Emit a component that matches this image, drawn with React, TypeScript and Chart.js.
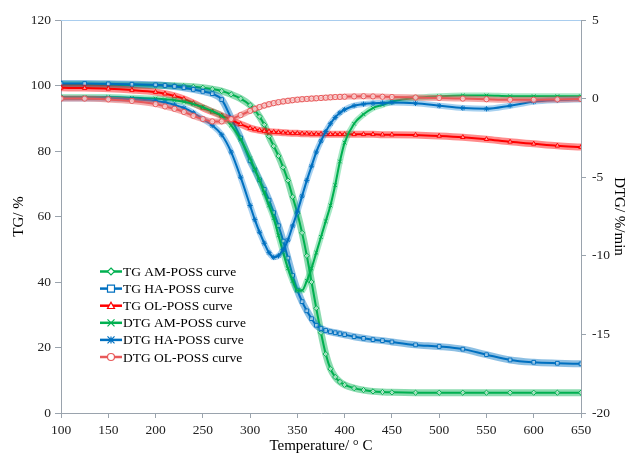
import React, { useEffect, useRef } from 'react';
import { Chart, registerables } from 'chart.js';
Chart.register(...registerables);

const temperatures = [100,125,150,175,200,210,220,230,240,250,260,270,280,290,300,305,310,315,320,325,330,335,340,345,350,355,360,365,370,375,380,385,390,395,400,410,420,430,440,450,475,500,525,550,575,600,625,650];

const tgAmPoss = [100.3,100.3,100.2,100.1,100,100,99.9,99.8,99.6,99.3,98.9,98.3,97.3,96,94,92.5,90.5,88,84.5,81.5,78.5,75,71,66,61,55,48,40,32,24.5,18,13.5,11,9.5,8.6,7.6,7.0,6.6,6.4,6.3,6.2,6.2,6.2,6.2,6.2,6.2,6.2,6.2];
const tgHaPoss = [100.6,100.6,100.5,100.4,100.2,100,99.7,99.3,98.8,98.2,97.5,95.7,90,84,77,74.2,71.2,68.3,65,61.2,57.2,52.5,47.3,42,37.5,34,31.2,28.8,26.8,25.8,25.2,24.8,24.5,24.2,23.9,23.3,22.8,22.4,22.1,21.7,20.8,20.3,19.5,17.8,16.2,15.5,15.2,15.0];
const tgOlPoss = [99.3,99.2,99,98.6,98,97.5,96.8,95.9,94.6,93.2,92,90.8,89.5,88.2,87,86.6,86.3,86.1,85.9,85.8,85.7,85.6,85.5,85.4,85.4,85.3,85.3,85.2,85.2,85.2,85.1,85.1,85.1,85.1,85.1,85.1,85.1,85.1,85.0,85.0,84.9,84.6,84.2,83.6,82.8,82.2,81.6,81.2];
const dtgAmPoss = [0.1,0.1,0.1,0.05,0,-0.05,-0.1,-0.2,-0.35,-0.55,-0.8,-1.1,-1.7,-2.6,-3.8,-4.5,-5.2,-6.0,-6.8,-7.6,-8.7,-9.8,-10.8,-11.6,-12.2,-12.2,-11.6,-10.8,-9.8,-8.8,-7.8,-6.8,-5.5,-4.0,-2.8,-1.6,-1.0,-0.6,-0.4,-0.2,0.05,0.15,0.2,0.2,0.15,0.15,0.15,0.15];
const dtgHaPoss = [0,0,0,-0.05,-0.15,-0.25,-0.4,-0.6,-0.9,-1.3,-1.7,-2.3,-3.4,-5.0,-6.8,-7.7,-8.5,-9.2,-9.8,-10.1,-10.0,-9.6,-9.0,-8.1,-7.2,-6.2,-5.2,-4.3,-3.4,-2.7,-2.1,-1.6,-1.2,-0.9,-0.7,-0.45,-0.35,-0.3,-0.28,-0.25,-0.3,-0.45,-0.6,-0.65,-0.45,-0.2,-0.1,-0.05];
const dtgOlPoss = [0,0,-0.05,-0.15,-0.35,-0.5,-0.65,-0.85,-1.1,-1.3,-1.45,-1.45,-1.3,-1.05,-0.78,-0.65,-0.54,-0.44,-0.36,-0.29,-0.23,-0.18,-0.14,-0.1,-0.07,-0.04,-0.02,0,0.02,0.04,0.06,0.08,0.1,0.11,0.12,0.14,0.15,0.14,0.12,0.1,0.07,0.04,0,-0.04,-0.07,-0.07,-0.05,-0.03];

const seriesNames = ['TG AM-POSS curve','TG HA-POSS curve','TG OL-POSS curve','DTG AM-POSS curve','DTG HA-POSS curve','DTG OL-POSS curve'];
const seriesValues = [tgAmPoss, tgHaPoss, tgOlPoss, dtgAmPoss, dtgHaPoss, dtgOlPoss];
const seriesAxes = ['y','y','y','y1','y1','y1'];
const seriesColors = ['#00b050','#0070c0','#ff0000','#00b050','#0070c0','#e8595a'];
const seriesBands = ['rgba(0,176,80,0.45)','rgba(0,112,192,0.45)','rgba(255,0,0,0.45)','rgba(0,190,90,0.35)','rgba(0,120,210,0.35)','rgba(232,89,90,0.5)'];
const seriesMarkers = ['rectRot','rect','triangle','crossRot','star','circle'];

const SERIF = '"Liberation Serif", "Times New Roman", serif';
const AXIS_COLOR = '#9aa3ad';

function drawMarker(ctx: CanvasRenderingContext2D, style: string, x: number, y: number, r: number, color: string) {
  ctx.save();
  ctx.strokeStyle = color;
  ctx.fillStyle = '#ffffff';
  ctx.lineWidth = 1.2;
  ctx.beginPath();
  if (style === 'rectRot') {
    ctx.moveTo(x, y - r); ctx.lineTo(x + r, y); ctx.lineTo(x, y + r); ctx.lineTo(x - r, y); ctx.closePath();
    ctx.fill(); ctx.stroke();
  } else if (style === 'rect') {
    ctx.rect(x - r, y - r, 2 * r, 2 * r); ctx.fill(); ctx.stroke();
  } else if (style === 'triangle') {
    ctx.moveTo(x, y - r); ctx.lineTo(x + r, y + r * 0.8); ctx.lineTo(x - r, y + r * 0.8); ctx.closePath();
    ctx.fill(); ctx.stroke();
  } else if (style === 'crossRot') {
    ctx.moveTo(x - r, y - r); ctx.lineTo(x + r, y + r); ctx.moveTo(x + r, y - r); ctx.lineTo(x - r, y + r); ctx.stroke();
  } else if (style === 'star') {
    ctx.moveTo(x - r, y - r); ctx.lineTo(x + r, y + r); ctx.moveTo(x + r, y - r); ctx.lineTo(x - r, y + r);
    ctx.moveTo(x, y - r); ctx.lineTo(x, y + r); ctx.stroke();
  } else {
    ctx.arc(x, y, r, 0, Math.PI * 2); ctx.fill(); ctx.stroke();
  }
  ctx.restore();
}

const bandPlugin = {
  id: 'bandPlugin',
  beforeDatasetDraw(chart: any, args: any) {
    const meta = args.meta;
    const ds = chart.data.datasets[args.index];
    if (!meta.dataset || !meta.dataset.path) return;
    const ctx = chart.ctx;
    const a = chart.chartArea;
    ctx.save();
    ctx.beginPath();
    ctx.rect(a.left, a.top - 6, a.right - a.left, a.bottom - a.top + 12);
    ctx.clip();
    ctx.beginPath();
    meta.dataset.path(ctx);
    ctx.strokeStyle = ds.bandColor;
    ctx.lineWidth = ds.bandWidth;
    ctx.lineJoin = 'round';
    ctx.lineCap = 'round';
    ctx.stroke();
    ctx.restore();
  },
};

const frameLegendPlugin = {
  id: 'frameLegend',
  afterDraw(chart: any) {
    const ctx = chart.ctx;
    const a = chart.chartArea;
    ctx.save();
    ctx.strokeStyle = '#a9cdee';
    ctx.lineWidth = 1;
    ctx.beginPath();
    ctx.moveTo(a.left, a.top + 0.5);
    ctx.lineTo(a.right, a.top + 0.5);
    ctx.stroke();
    const x0 = 100, x1 = 122, yStart = 271.5, dy = 17.1;
    ctx.font = '13.5px ' + SERIF;
    ctx.textBaseline = 'middle';
    ctx.textAlign = 'left';
    seriesNames.forEach((name, i) => {
      const y = yStart + i * dy;
      ctx.strokeStyle = seriesColors[i];
      ctx.lineWidth = 2.5;
      ctx.beginPath();
      ctx.moveTo(x0, y);
      ctx.lineTo(x1, y);
      ctx.stroke();
      drawMarker(ctx, seriesMarkers[i], (x0 + x1) / 2, y, 3.5, seriesColors[i]);
      ctx.fillStyle = '#000000';
      ctx.fillText(name, x1 + 1, y + 1);
    });
    ctx.restore();
  },
};

export default function App() {
  const canvasRef = useRef<HTMLCanvasElement | null>(null);
  useEffect(() => {
    const canvas = canvasRef.current;
    if (!canvas) return;
    const datasets = seriesNames.map((name, i) => ({
      label: name,
      data: temperatures.map((t, k) => ({ x: t, y: seriesValues[i][k] })),
      yAxisID: seriesAxes[i],
      borderColor: seriesColors[i],
      borderWidth: 2,
      bandColor: seriesBands[i],
      bandWidth: i < 3 ? 7 : 6,
      pointStyle: seriesMarkers[i],
      pointRadius: 2.6,
      pointBorderWidth: 1,
      pointBorderColor: seriesColors[i],
      pointBackgroundColor: 'rgba(255,255,255,0.6)',
      cubicInterpolationMode: 'monotone',
      fill: false,
      order: 5 - i,
    }));
    const tickFont = { family: SERIF, size: 13.5 };
    const titleFont = { family: SERIF, size: 15, lineHeight: 1 };
    const chart = new Chart(canvas, {
      type: 'line',
      data: { datasets } as any,
      plugins: [bandPlugin, frameLegendPlugin],
      options: {
        animation: false,
        responsive: false,
        maintainAspectRatio: false,
        devicePixelRatio: 1,
        layout: { padding: { top: 20, left: 0, right: 0, bottom: 0 } },
        plugins: { legend: { display: false }, tooltip: { enabled: false } },
        scales: {
          x: {
            type: 'linear', min: 100, max: 650,
            ticks: { stepSize: 50, font: tickFont, color: '#222', padding: 4, maxRotation: 0 },
            grid: { display: true, drawOnChartArea: false, drawTicks: true, tickLength: 5, color: AXIS_COLOR },
            border: { display: true, color: AXIS_COLOR },
            title: { display: true, text: 'Temperature/ \u00b0 C', font: titleFont, color: '#000', padding: { top: 0, bottom: 0 } },
            afterFit: (s: any) => { s.height = 41; },
          },
          y: {
            type: 'linear', position: 'left', min: 0, max: 120,
            ticks: { stepSize: 20, font: tickFont, color: '#222', padding: 4 },
            grid: { display: true, drawOnChartArea: false, drawTicks: true, tickLength: 6, color: AXIS_COLOR },
            border: { display: true, color: AXIS_COLOR },
            title: { display: true, text: 'TG/ %', font: titleFont, color: '#000', padding: { top: 12, bottom: 0 } },
            afterFit: (s: any) => { s.width = 61; },
          },
          y1: {
            type: 'linear', position: 'right', min: -20, max: 5,
            ticks: { stepSize: 5, font: tickFont, color: '#222', padding: 6 },
            grid: { display: true, drawOnChartArea: false, drawTicks: true, tickLength: 5, color: AXIS_COLOR },
            border: { display: true, color: AXIS_COLOR },
            title: { display: true, text: 'DTG/ %/min', font: titleFont, color: '#000', padding: { top: 1, bottom: 0 } },
            afterFit: (s: any) => { s.width = 46; },
          },
        },
      } as any,
    });
    return () => chart.destroy();
  }, []);
  return (
    <div style={{ position: 'absolute', left: 0, top: 0, width: 627, height: 454, background: '#fff' }}>
      <canvas ref={canvasRef} width={627} height={454} style={{ display: 'block' }} />
    </div>
  );
}
